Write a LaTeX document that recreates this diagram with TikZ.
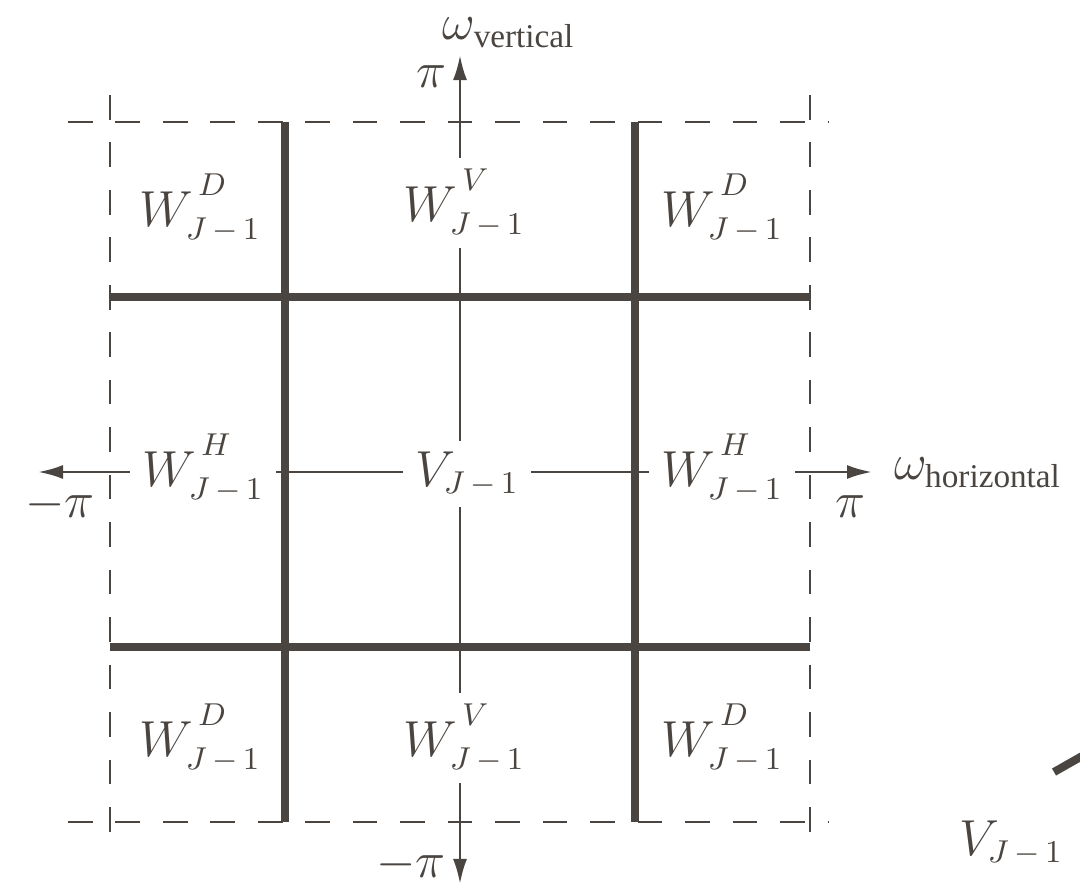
\documentclass[tikz,border=0pt]{standalone}
\usepackage{amsmath}
\usepackage{fontspec}
\setmainfont{Liberation Serif}
\usetikzlibrary{arrows.meta}
\definecolor{ink}{RGB}{74,69,64}

\newcommand{\Jsub}{J\mskip3mu-\mskip3mu1}
\newcommand{\Wband}[1]{W^{\,\raisebox{0.6ex}{$\scriptstyle #1$}}_{\Jsub}}

\begin{document}
\begin{tikzpicture}[
    x=0.01cm, y=-0.01cm,
    font=\fontsize{13.5}{15}\selectfont,
    dashline/.style={draw=ink, line width=0.8pt, dash pattern=on 7pt off 6.5pt},
    thickline/.style={draw=ink, line width=2.3pt},
    axis/.style={draw=ink, line width=0.8pt,
                 {Latex[length=2.5mm,width=1.4mm]}-{Latex[length=2.5mm,width=1.4mm]}},
    band/.style={fill=white, inner xsep=3.5pt, inner ysep=3pt, text=ink},
    tick/.style={text=ink, inner sep=1pt},
  ]
    \useasboundingbox (0,0) rectangle (1080,886);

    % axes
    \coordinate (ytop) at (460,55);
    \coordinate (ybot) at (460,884);
    \coordinate (xleft) at (38,472);
    \coordinate (xright) at (872,472);
    \draw[axis] (ybot) -- (ytop);
    \draw[axis] (xleft) -- (xright);

    % pi-periodic box
    \draw[dashline] (110,95) -- (110,852);
    \draw[dashline] (810,95) -- (810,852);
    \draw[dashline] (68,122) -- (828,122);
    \draw[dashline] (68,822) -- (828,822);

    % subband boundaries
    \draw[thickline] (285,122) -- (285,822);
    \draw[thickline] (635,122) -- (635,822);
    \draw[thickline] (110,297) -- (810,297);
    \draw[thickline] (110,647) -- (810,647);

    % subbands
    \node[band] (dtl) at (200,208) {$\Wband{D}$};
    \node[band] (vtop) at (464,203) {$\Wband{V}$};
    \node[band] (dtr) at (722,208) {$\Wband{D}$};
    \node[band] (hleft) at (203,468) {$\Wband{H}$};
    \node[band] (vlow) at (467,474) {$V_{\Jsub}$};
    \node[band] (hright) at (722,468) {$\Wband{H}$};
    \node[band] (dbl) at (200,738) {$\Wband{D}$};
    \node[band] (vbot) at (464,738) {$\Wband{V}$};
    \node[band] (dbr) at (722,738) {$\Wband{D}$};

    % axis labels
    \node[tick] (pitop) at (431,77) {$\pi$};
    \node[tick] (pileft) at (60,505) {$-\pi$};
    \node[tick] (piright) at (850,507) {$\pi$};
    \node[tick] (pibot) at (411,865) {$-\pi$};
    \node[tick] (omvert) at (509,33) {$\omega_{\mathrm{vertical}}$};
    \node[tick] (omhoriz) at (978,473) {$\omega_{\mathrm{horizontal}}$};

    % cut-off neighbour
    \node[tick] (vnext) at (1011,843) {$V_{\Jsub}$};
    \coordinate (nextA) at (1054,772);
    \coordinate (nextB) at (1084,755);
    \draw[thickline] (nextA) -- (nextB);
\end{tikzpicture}
\end{document}
